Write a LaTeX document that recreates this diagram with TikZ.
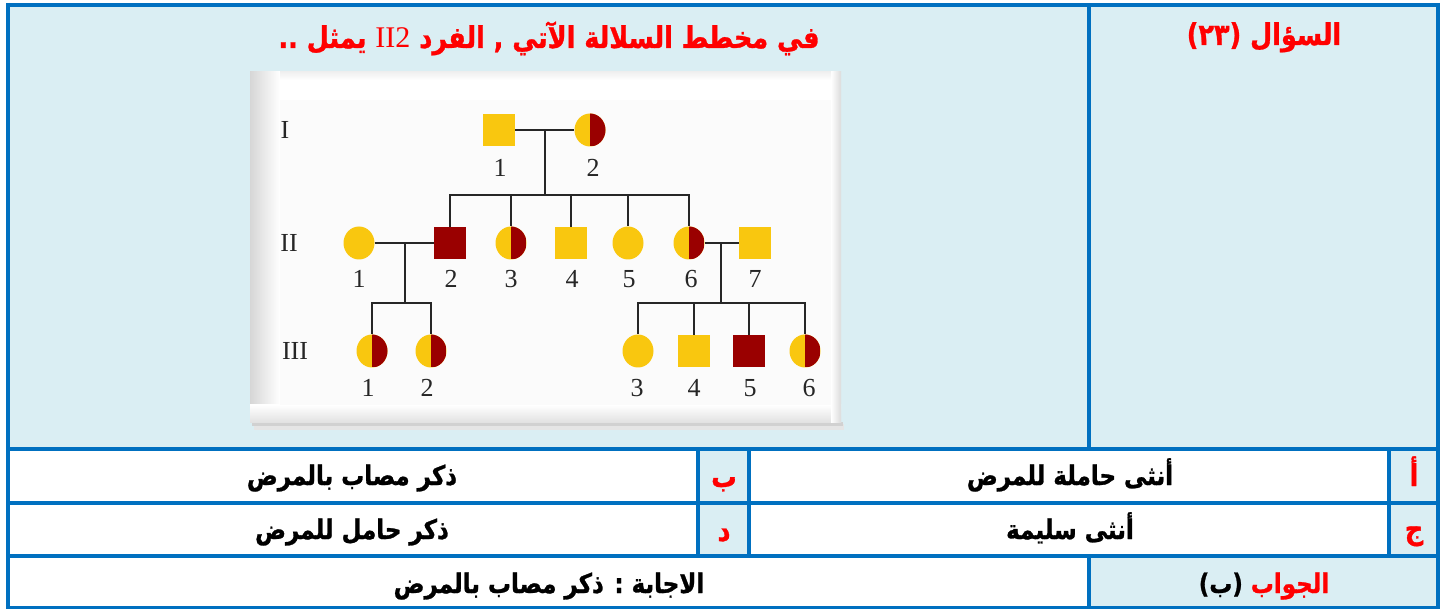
\documentclass[tikz,border=0pt]{standalone}
\usepackage{fontspec}
\setmainfont{Liberation Serif}
\newfontfamily\arab[Script=Arabic,FakeStretch=0.85,BoldFeatures={FakeBold=1}]{DejaVu Sans}
\newfontfamily\rom{Liberation Serif}
\TeXXeTstate=1
\usetikzlibrary{shapes.geometric}
\definecolor{bord}{HTML}{0070C0}
\definecolor{lblue}{HTML}{DAEEF3}
\definecolor{pyel}{HTML}{F9C70F}
\definecolor{pred}{HTML}{9A0000}
\definecolor{qred}{HTML}{FF0000}
\begin{document}
\begin{tikzpicture}[x=1pt,y=-1pt,
  male/.style={rectangle, minimum width=32pt, minimum height=32pt, inner sep=0pt, fill=pyel},
  affm/.style={male, fill=pred},
  fem/.style={ellipse, minimum width=31pt, minimum height=33pt, inner sep=0pt, fill=pyel},
  carr/.style={fem, path picture={\fill[pred] (path picture bounding box.north) rectangle (path picture bounding box.south east);}},
  num/.style={font=\rom\fontsize{26}{26}\selectfont, text=black!85, inner sep=0pt},
  gen/.style={font=\rom\fontsize{26}{26}\selectfont, text=black!85, inner sep=0pt},
  link/.style={line width=2pt, draw=black!85},
  bline/.style={line width=4pt, draw=bord},
  artxt/.style={font=\arab\bfseries\fontsize{27}{29}\selectfont, inner sep=0pt, anchor=base},
  letr/.style={font=\arab\bfseries\fontsize{30}{32}\selectfont, inner sep=0pt, anchor=base, text=qred},
  ttl/.style={font=\arab\bfseries\fontsize{30}{32}\selectfont, text=qred, inner sep=0pt, anchor=base}
]
\useasboundingbox (0,0) rectangle (1446,609);
% cell fills
\fill[white] (0,0) rectangle (1446,609);
\fill[lblue] (8,5) rectangle (1438,449);
\fill[lblue] (698,449) rectangle (749,556);
\fill[lblue] (1388,449) rectangle (1438,556);
\fill[lblue] (1088,556) rectangle (1438,607);
% picture frame with bevel
\fill[black!10] (254,424) rectangle (844,430);
\fill[black!18] (252,422) rectangle (843,426);
\fill[white] (250,72) rectangle (841,423);
\shade[left color=black!16, right color=white] (250,72) rectangle (280,423);
\shade[top color=white, bottom color=black!12] (250,405) rectangle (841,423);
\shade[left color=white, right color=black!14] (831,72) rectangle (841,423);
\shade[top color=black!6, bottom color=white] (280,72) rectangle (831,80);
\fill[white!98.5!black] (280,100) rectangle (831,405);
% generation labels
\node[gen] (gI) at (285,130) {I};
\node[gen] (gII) at (289,243) {II};
\node[gen] (gIII) at (295,351) {III};
% generation I
\node[male] (I1) at (499,130) {};
\node[carr] (I2) at (590,130) {};
\node[num] (nI1) at (500,168) {1};
\node[num] (nI2) at (593,168) {2};
% generation II
\node[fem]  (II1) at (359,243) {};
\node[affm] (II2) at (450,243) {};
\node[carr] (II3) at (511,243) {};
\node[male] (II4) at (571,243) {};
\node[fem]  (II5) at (628,243) {};
\node[carr] (II6) at (689,243) {};
\node[male] (II7) at (755,243) {};
\node[num] (nII1) at (359,279) {1};
\node[num] (nII2) at (451,279) {2};
\node[num] (nII3) at (511,279) {3};
\node[num] (nII4) at (572,279) {4};
\node[num] (nII5) at (629,279) {5};
\node[num] (nII6) at (691,279) {6};
\node[num] (nII7) at (755,279) {7};
% generation III
\node[carr] (III1) at (372,351) {};
\node[carr] (III2) at (431,351) {};
\node[fem]  (III3) at (638,351) {};
\node[male] (III4) at (694,351) {};
\node[affm] (III5) at (749,351) {};
\node[carr] (III6) at (805,351) {};
\node[num] (nIII1) at (368,388) {1};
\node[num] (nIII2) at (427,388) {2};
\node[num] (nIII3) at (637,388) {3};
\node[num] (nIII4) at (694,388) {4};
\node[num] (nIII5) at (750,388) {5};
\node[num] (nIII6) at (809,388) {6};
% connectors
\coordinate (m1) at (545,130);
\coordinate (s1) at (545,195);
\coordinate (m2) at (405,243);
\coordinate (s2) at (405,303);
\coordinate (m3) at (721,243);
\coordinate (s3) at (721,303);
\draw[link] (I1.east) -- (I2.west);
\draw[link] (m1) -- (s1);
\foreach \c in {II2,II3,II4,II5,II6} \draw[link] (s1) -| (\c.north);
\draw[link] (II1.east) -- (II2.west);
\draw[link] (II6.east) -- (II7.west);
\draw[link] (m2) -- (s2);
\draw[link] (m3) -- (s3);
\foreach \c in {III1,III2} \draw[link] (s2) -| (\c.north);
\foreach \c in {III3,III4,III5,III6} \draw[link] (s3) -| (\c.north);
% table lines
\draw[bline] (8,3) -- (8,609);
\draw[bline] (1438,3) -- (1438,609);
\draw[bline] (6,5) -- (1440,5);
\draw[bline] (6,449) -- (1440,449);
\draw[bline] (6,502.5) -- (1440,502.5);
\draw[bline] (6,556) -- (1440,556);
\draw[line width=3pt, draw=bord] (6,607.5) -- (1440,607.5);
\draw[bline] (1088.5,5) -- (1088.5,449);
\draw[bline] (1088.5,556) -- (1088.5,607);
\draw[bline] (698,449) -- (698,556);
\draw[bline] (749,449) -- (749,556);
\draw[bline] (1388.5,449) -- (1388.5,556);
% texts
\node[ttl] (title) at (549,48) {\beginR في مخطط السلالة الآتي , الفرد \beginL{\rom\mdseries II2}\endL{} يمثل ..\endR};
\node[ttl] (qlabel) at (1264,45) {\beginR السؤال {\fontsize{30}{32}\selectfont (٢٣)}\endR};
\node[letr] (la) at (1414,486) {\beginR أ\endR};
\node[artxt] (ta) at (1070,485) {\beginR أنثى حاملة للمرض\endR};
\node[letr] (lb) at (724,487) {\beginR ب\endR};
\node[artxt] (tb) at (352,485) {\beginR ذكر مصاب بالمرض\endR};
\node[letr] (lj) at (1414,539) {\beginR ج\endR};
\node[artxt] (tj) at (1070,539) {\beginR أنثى سليمة\endR};
\node[letr] (ld) at (724,541) {\beginR د\endR};
\node[artxt] (td) at (352,539) {\beginR ذكر حامل للمرض\endR};
\node[artxt] (alab) at (1264,593) {{\fontsize{27}{29}\selectfont\beginR (ب)\endR}\ {\color{qred}\beginR الجواب\endR}};
\node[artxt] (atxt) at (549,593) {\beginR الاجابة : ذكر مصاب بالمرض\endR};
\end{tikzpicture}
\end{document}
